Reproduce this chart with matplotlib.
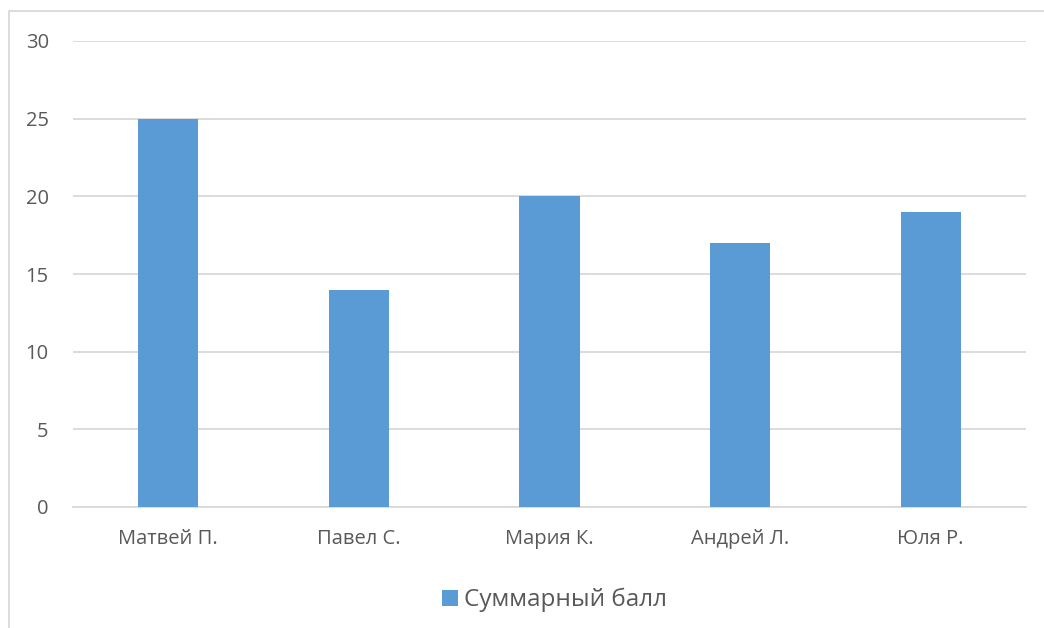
import matplotlib
matplotlib.use("Agg")
import matplotlib.pyplot as plt
from matplotlib.lines import Line2D
from matplotlib.patches import Patch

categories = ["Матвей П.", "Павел С.", "Мария К.", "Андрей Л.", "Юля Р."]
values = [25, 14, 20, 17, 19]
series_name = "Суммарный балл"
yticks = [0, 5, 10, 15, 20, 25, 30]

plt.rcParams['font.family'] = ['Open Sans', 'DejaVu Sans']
W, H = 1044, 628
fig = plt.figure(figsize=(W/100, H/100), dpi=100)
fig.patch.set_facecolor('white')

ax = fig.add_axes([73/W, 1-507/H, (1026-73)/W, (507-41)/H])
x = list(range(len(categories)))
ax.bar(x, values, width=0.315, color='#5B9BD5', zorder=3)
ax.set_xlim(-0.5, len(categories)-0.5)
ax.set_ylim(0, 30)
ax.set_yticks(yticks)
ax.set_yticklabels([str(v) for v in yticks])
ax.set_xticks(x)
ax.set_xticklabels(categories)
ax.grid(axis='y', color='#D9D9D9', linewidth=1.3, zorder=0)
for s in ['top', 'right', 'left']:
    ax.spines[s].set_visible(False)
ax.spines['bottom'].set_color('#D9D9D9')
ax.spines['bottom'].set_linewidth(1.3)
ax.tick_params(axis='both', length=0, colors='#595959', labelsize=14.5)
ax.tick_params(axis='y', pad=17.5)
ax.tick_params(axis='x', pad=15.5)

# chart frame (left and top edges)
fig.add_artist(Line2D([9/W, 9/W, 1.0], [0.0, 1-11/H, 1-11/H],
                      transform=fig.transFigure, color='#D9D9D9', linewidth=1.3))

handles = [Patch(facecolor='#5B9BD5', edgecolor='none')]
leg = fig.legend(handles, [series_name], loc='center', bbox_to_anchor=(0.531, 1-600/H),
                 frameon=False, fontsize=17.5, handlelength=0.65, handleheight=0.65,
                 handletextpad=0.25, labelcolor='#595959')

fig.savefig('out.png', dpi=100, facecolor='white')
